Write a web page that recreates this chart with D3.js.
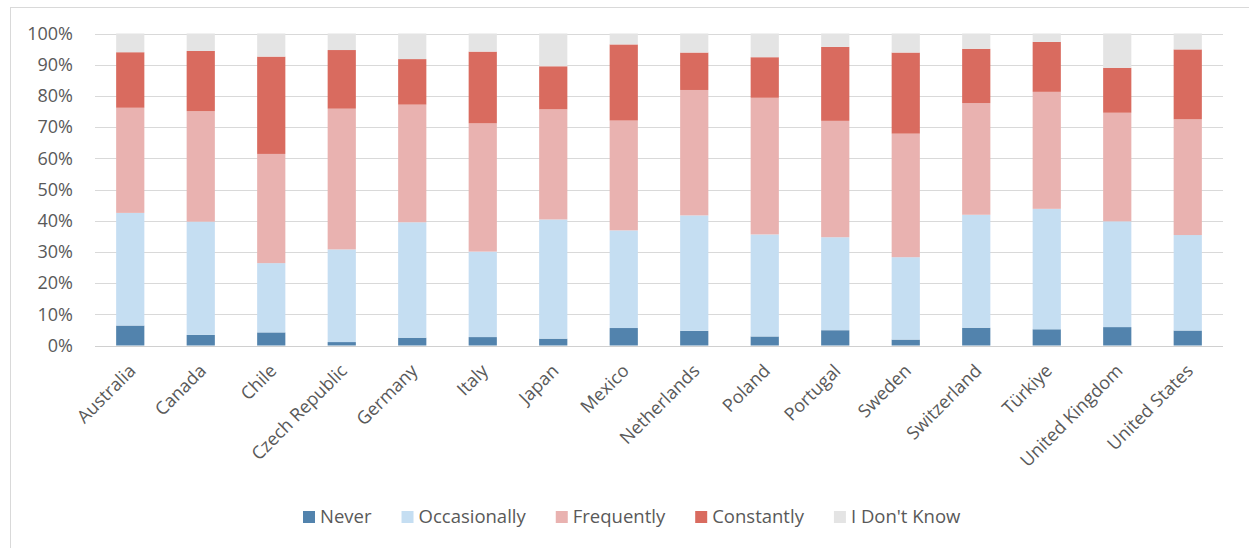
<!DOCTYPE html>
<html>
<head>
<meta charset="utf-8">
<script src="https://cdn.jsdelivr.net/npm/d3@7"></script>
<style>
  html, body { margin: 0; padding: 0; background: #ffffff; }
  svg { display: block; }
  text { font-family: "Open Sans", "Noto Sans", sans-serif; fill: #595959; }
</style>
</head>
<body>
<svg id="chart" width="1249" height="548"></svg>
<script>
// ---- Data (percent shares per country) ----
const countries = ["Australia","Canada","Chile","Czech Republic","Germany","Italy","Japan","Mexico",
  "Netherlands","Poland","Portugal","Sweden","Switzerland","Türkiye","United Kingdom","United States"];
const seriesNames = ["Never","Occasionally","Frequently","Constantly","I Don't Know"];
const never        = [6.4, 3.4, 4.2, 1.1, 2.5, 2.7, 2.2, 5.6, 4.7, 2.9, 4.9, 1.9, 5.7, 5.2, 5.9, 4.8];
const occasionally = [36.1,36.3,22.2,29.7,37.0,27.4,38.2,31.3,37.0,32.7,29.8,26.4,36.2,38.6,33.9,30.6];
const frequently   = [33.7,35.4,35.0,45.1,37.7,41.1,35.3,35.2,40.2,43.8,37.3,39.6,35.8,37.5,34.8,37.1];
const constantly   = [17.8,19.3,31.2,18.8,14.6,23.0,13.8,24.4,12.0,13.0,23.7,26.0,17.4,16.0,14.4,22.4];
const dontKnow     = [6.0, 5.6, 7.4, 5.3, 8.2, 5.8,10.5, 3.5, 6.1, 7.6, 4.3, 6.1, 4.9, 2.7,11.0, 5.1];
const yTicks = [0,0.1,0.2,0.3,0.4,0.5,0.6,0.7,0.8,0.9,1.0];
const colors = ["#5283ad","#c5def2","#e9b2b0","#d96b5f","#e4e4e4"];

const seriesValues = [never, occasionally, frequently, constantly, dontKnow];
const table = countries.map((c, i) => {
  const row = { country: c };
  seriesNames.forEach((s, k) => row[s] = seriesValues[k][i] / 100);
  return row;
});

const svg = d3.select("#chart");

// outer border
svg.append("rect").attr("x", 10.5).attr("y", 7.5).attr("width", 1250).attr("height", 541)
  .attr("fill", "none").attr("stroke", "#d9d9d9").attr("stroke-width", 1);

const plot = { left: 95, right: 1223, top: 33.5, bottom: 345.5 };

const x = d3.scaleBand().domain(countries).range([plot.left, plot.right]).paddingInner(0.6).paddingOuter(0.3);
const y = d3.scaleLinear().domain([0, 1]).range([plot.bottom, plot.top]);

// gridlines
svg.append("g").selectAll("line").data(yTicks).join("line")
  .attr("x1", plot.left).attr("x2", plot.right)
  .attr("y1", d => Math.round(y(d)) + 0.5).attr("y2", d => Math.round(y(d)) + 0.5)
  .attr("stroke", "#d9d9d9").attr("stroke-width", 1);

// y axis labels
const yAxis = d3.axisLeft(y).tickValues(yTicks).tickFormat(d3.format(".0%")).tickSize(0).tickPadding(22);
const gy = svg.append("g").attr("transform", `translate(${plot.left},0)`).call(yAxis);
gy.select(".domain").remove();
gy.selectAll("text").attr("font-size", 18).style("fill", "#595959")
  .style("font-family", "'Open Sans', 'Noto Sans', sans-serif");

// stacked bars
const stack = d3.stack().keys(seriesNames);
const stacked = stack(table);
svg.append("g").selectAll("g").data(stacked).join("g")
  .attr("fill", (d, i) => colors[i])
  .selectAll("rect").data(d => d).join("rect")
  .attr("x", d => x(d.data.country))
  .attr("width", x.bandwidth())
  .attr("y", d => y(d[1]))
  .attr("height", d => y(d[0]) - y(d[1]));

// baseline
svg.append("line").attr("x1", plot.left).attr("x2", plot.right)
  .attr("y1", Math.round(y(0)) + 0.5).attr("y2", Math.round(y(0)) + 0.5)
  .attr("stroke", "#d0d0d0").attr("stroke-width", 1);

// x labels
const xAxis = d3.axisBottom(x).tickSize(0).tickPadding(0);
const gx = svg.append("g").attr("transform", `translate(0,${plot.bottom})`).call(xAxis);
gx.select(".domain").remove();
gx.selectAll(".tick text")
  .attr("font-size", 18)
  .style("fill", "#595959")
  .style("font-family", "'Open Sans', 'Noto Sans', sans-serif")
  .attr("text-anchor", "end")
  .attr("dy", "0.35em")
  .attr("y", 0)
  .attr("transform", "translate(2,22) rotate(-45)");

// legend
const legend = svg.append("g").attr("transform", "translate(303,523)");
let lx = 0;
seriesNames.forEach((s, i) => {
  legend.append("rect").attr("x", lx).attr("y", -12).attr("width", 12).attr("height", 12).attr("fill", colors[i]);
  const t = legend.append("text").attr("x", lx + 17).attr("y", 0)
    .attr("font-size", 18.5).text(s);
  lx += 17 + t.node().getComputedTextLength() + 30;
});
</script>
</body>
</html>
